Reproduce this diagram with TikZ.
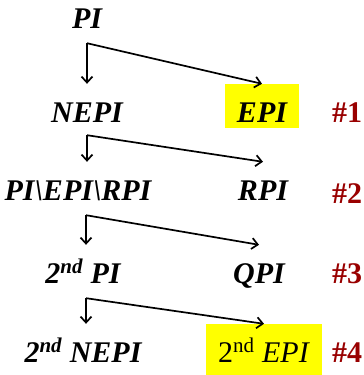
\documentclass[tikz,border=0pt]{standalone}
\usepackage{fontspec}
\setmainfont{Liberation Serif}
\usetikzlibrary{positioning,arrows.meta}
\definecolor{tagred}{RGB}{153,0,0}
\definecolor{marker}{RGB}{255,255,0}

\begin{document}
\begin{tikzpicture}[
    x=1pt, y=1pt,
    term/.style={font=\fontsize{30}{30}\selectfont\bfseries\itshape,
      inner sep=0pt, text height=38pt, text depth=6pt},
    highlight/.style={fill=marker, inner xsep=12pt},
    tag/.style={font=\fontsize{30}{30}\selectfont\bfseries, text=tagred, inner sep=0pt},
    split/.style={line width=1.7pt, -{Straight Barb[length=6pt,width=11pt]}},
  ]
  \useasboundingbox (0,0) rectangle (364,-375);

  \node [term, anchor=base] (pi) at (87,-28) {PI};
  \node [term, below=94pt of pi.base, anchor=base] (nepi) {NEPI};
  \node [term, highlight, right=175pt of nepi.base, anchor=base] (epi) {EPI};
  \node [tag, right=85pt of epi.base, anchor=base] (t1) {\#1};

  \node [term, below left=78pt and 9pt of nepi.base, anchor=base] (rest) {PI\textbackslash EPI\textbackslash RPI};
  \node [term, right=185pt of rest.base, anchor=base] (rpi) {RPI};
  \node [tag, right=84pt of rpi.base, anchor=base, yshift=-3pt] (t2) {\#2};

  \node [term, below right=83pt and 5pt of rest.base, anchor=base] (pi2) {2\textsuperscript{nd} PI};
  \node [term, right=176pt of pi2.base, anchor=base] (qpi) {QPI};
  \node [tag, right=88pt of qpi.base, anchor=base] (t3) {\#3};

  \node [term, below=79pt of pi2.base, anchor=base] (nepi2) {2\textsuperscript{nd} NEPI};
  \node [term, highlight, font=\fontsize{30}{30}\selectfont\mdseries\upshape, text depth=13pt,
    right=181pt of nepi2.base, anchor=base] (epi2) {2\textsuperscript{nd} \textit{EPI}};
  \node [tag, right=83pt of epi2.base, anchor=base] (t4) {\#4};

  % split points
  \coordinate [below=9pt of pi] (c1);
  \coordinate [below=7pt of nepi] (c2);
  \coordinate [below=9pt of rest, xshift=8pt] (c3);
  \coordinate [below=9pt of pi2, xshift=3pt] (c4);

  \draw [split] (c1) -- (c1 |- epi.north);
  \draw [split] (c1) -- (epi.north);
  \draw [split] (c2) -- (c2 |- rpi.north);
  \draw [split] (c2) -- (rpi.north);
  \draw [split] (c3) -- (c3 |- qpi.north);
  \draw [split] (c3) -- (qpi.north);
  \draw [split] (c4) -- (c4 |- epi2.north);
  \draw [split] (c4) -- (epi2.north);
\end{tikzpicture}
\end{document}
